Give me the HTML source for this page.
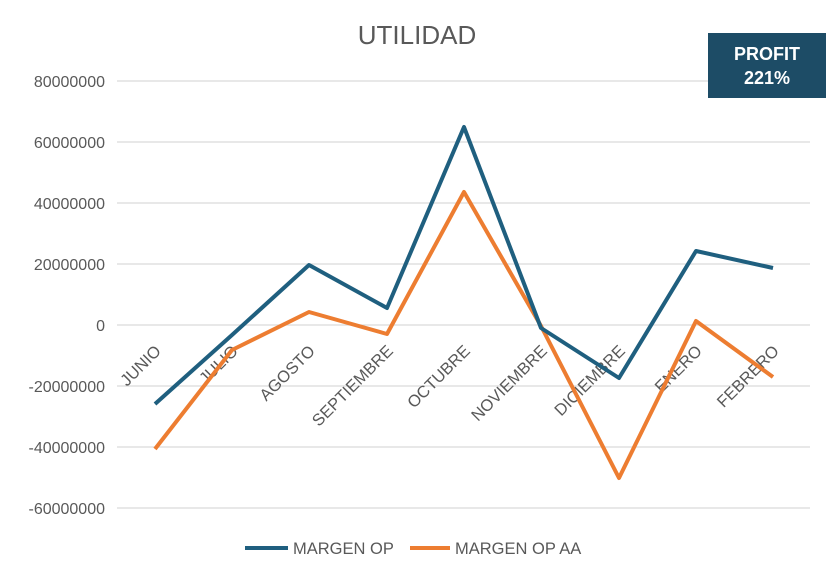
<!DOCTYPE html>
<html><head><meta charset="utf-8"><style>
body{margin:0;background:#fff;}
svg{display:block;font-family:"Liberation Sans",sans-serif;}
</style></head><body>
<svg width="835" height="579" viewBox="0 0 835 579">
<rect width="835" height="579" fill="#fff"/>
<text x="417" y="44" text-anchor="middle" font-size="26" fill="#595959">UTILIDAD</text>
<g stroke="#d9d9d9" stroke-width="1.3">
<line x1="117" x2="810" y1="81" y2="81"/><line x1="117" x2="810" y1="142" y2="142"/>
<line x1="117" x2="810" y1="203" y2="203"/><line x1="117" x2="810" y1="264" y2="264"/>
<line x1="117" x2="810" y1="325" y2="325"/><line x1="117" x2="810" y1="386" y2="386"/>
<line x1="117" x2="810" y1="447" y2="447"/><line x1="117" x2="810" y1="508" y2="508"/>
</g>
<g font-size="16" fill="#595959" text-anchor="end">
<text x="105" y="87">80000000</text><text x="105" y="148">60000000</text>
<text x="105" y="209">40000000</text><text x="105" y="270">20000000</text>
<text x="105" y="331">0</text><text x="105" y="392">-20000000</text>
<text x="105" y="453">-40000000</text><text x="105" y="514">-60000000</text>
</g>
<g font-size="16.5" fill="#595959" text-anchor="end">
<text transform="translate(162,352) rotate(-45)">JUNIO</text>
<text transform="translate(239,352) rotate(-45)">JULIO</text>
<text transform="translate(316,352) rotate(-45)">AGOSTO</text>
<text transform="translate(394,352) rotate(-45)">SEPTIEMBRE</text>
<text transform="translate(471,352) rotate(-45)">OCTUBRE</text>
<text transform="translate(548,352) rotate(-45)">NOVIEMBRE</text>
<text transform="translate(626,352) rotate(-45)">DICIEMBRE</text>
<text transform="translate(703,352) rotate(-45)">ENERO</text>
<text transform="translate(780,352) rotate(-45)">FEBRERO</text>
</g>
<polyline fill="none" stroke="#ed7d31" stroke-width="4" stroke-linejoin="round" points="155,449 232,350 309,312 387,334 464,192 541,326 619,478 696,321 773,377"/>
<polyline fill="none" stroke="#1f5f7f" stroke-width="4" stroke-linejoin="round" points="155,404 232,335 309,265 387,308 464,127 541,328 619,378 696,251 773,268"/>
<rect x="708" y="33" width="118" height="65" fill="#1d4c66"/>
<text x="767" y="60" text-anchor="middle" font-size="18" font-weight="bold" fill="#fff">PROFIT</text>
<text x="767" y="84" text-anchor="middle" font-size="18" font-weight="bold" fill="#fff">221%</text>
<line x1="245" x2="288" y1="548" y2="548" stroke="#1f5f7f" stroke-width="4"/>
<text x="293" y="554" font-size="16.5" fill="#595959">MARGEN OP</text>
<line x1="410" x2="450" y1="548" y2="548" stroke="#ed7d31" stroke-width="4"/>
<text x="455" y="554" font-size="16.5" fill="#595959">MARGEN OP AA</text>
</svg>
</body></html>
